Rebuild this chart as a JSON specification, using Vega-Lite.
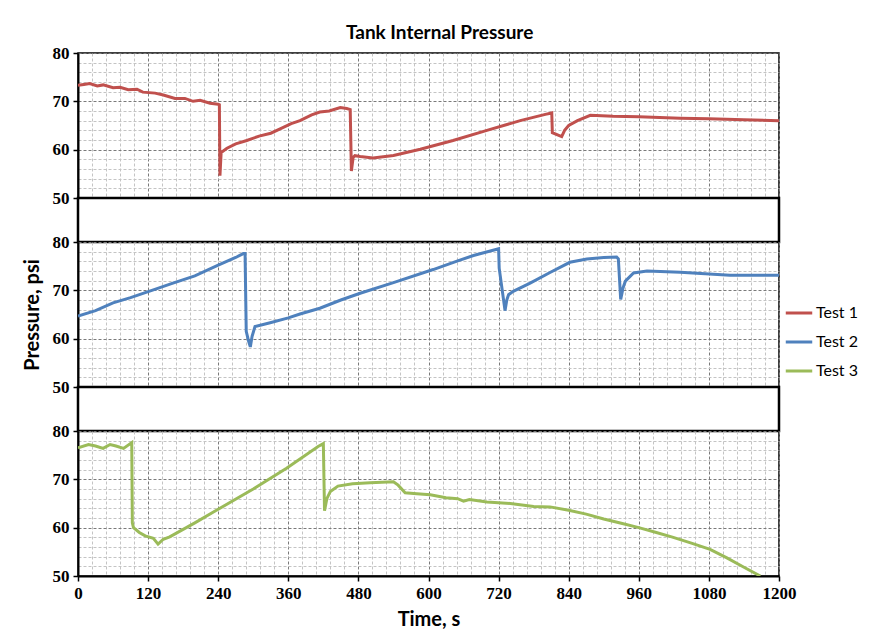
{
 "$schema": "https://vega.github.io/schema/vega-lite/v6.json",
 "padding": {"left": 21, "top": 24, "right": 10, "bottom": 5},
 "bounds": "flush",
 "title": {"text": "Tank Internal Pressure", "font": "Lato", "fontSize": 19, "fontWeight": "bold", "color": "#000", "offset": 0, "anchor": "middle"},
 "datasets": {
  "t1": [
   {"time": 0, "pressure": 73.3, "test": "Test 1"},
   {"time": 10, "pressure": 73.5, "test": "Test 1"},
   {"time": 20, "pressure": 73.7, "test": "Test 1"},
   {"time": 33, "pressure": 73.2, "test": "Test 1"},
   {"time": 43, "pressure": 73.4, "test": "Test 1"},
   {"time": 60, "pressure": 72.8, "test": "Test 1"},
   {"time": 72, "pressure": 72.9, "test": "Test 1"},
   {"time": 86, "pressure": 72.4, "test": "Test 1"},
   {"time": 101, "pressure": 72.5, "test": "Test 1"},
   {"time": 111, "pressure": 71.9, "test": "Test 1"},
   {"time": 132, "pressure": 71.7, "test": "Test 1"},
   {"time": 146, "pressure": 71.3, "test": "Test 1"},
   {"time": 166, "pressure": 70.6, "test": "Test 1"},
   {"time": 183, "pressure": 70.6, "test": "Test 1"},
   {"time": 197, "pressure": 70.0, "test": "Test 1"},
   {"time": 209, "pressure": 70.2, "test": "Test 1"},
   {"time": 226, "pressure": 69.6, "test": "Test 1"},
   {"time": 240, "pressure": 69.4, "test": "Test 1"},
   {"time": 242, "pressure": 69.3, "test": "Test 1"},
   {"time": 243, "pressure": 54.6, "test": "Test 1"},
   {"time": 245, "pressure": 59.4, "test": "Test 1"},
   {"time": 255, "pressure": 60.3, "test": "Test 1"},
   {"time": 270, "pressure": 61.2, "test": "Test 1"},
   {"time": 289, "pressure": 61.9, "test": "Test 1"},
   {"time": 310, "pressure": 62.8, "test": "Test 1"},
   {"time": 330, "pressure": 63.4, "test": "Test 1"},
   {"time": 346, "pressure": 64.3, "test": "Test 1"},
   {"time": 365, "pressure": 65.4, "test": "Test 1"},
   {"time": 380, "pressure": 66.0, "test": "Test 1"},
   {"time": 400, "pressure": 67.2, "test": "Test 1"},
   {"time": 414, "pressure": 67.8, "test": "Test 1"},
   {"time": 430, "pressure": 68.0, "test": "Test 1"},
   {"time": 449, "pressure": 68.7, "test": "Test 1"},
   {"time": 460, "pressure": 68.5, "test": "Test 1"},
   {"time": 466, "pressure": 68.3, "test": "Test 1"},
   {"time": 468, "pressure": 55.6, "test": "Test 1"},
   {"time": 471, "pressure": 58.4, "test": "Test 1"},
   {"time": 474, "pressure": 58.75, "test": "Test 1"},
   {"time": 483, "pressure": 58.6, "test": "Test 1"},
   {"time": 505, "pressure": 58.3, "test": "Test 1"},
   {"time": 540, "pressure": 58.8, "test": "Test 1"},
   {"time": 586, "pressure": 60.1, "test": "Test 1"},
   {"time": 642, "pressure": 61.9, "test": "Test 1"},
   {"time": 700, "pressure": 64.0, "test": "Test 1"},
   {"time": 757, "pressure": 66.0, "test": "Test 1"},
   {"time": 800, "pressure": 67.3, "test": "Test 1"},
   {"time": 811, "pressure": 67.6, "test": "Test 1"},
   {"time": 812, "pressure": 63.5, "test": "Test 1"},
   {"time": 828, "pressure": 62.7, "test": "Test 1"},
   {"time": 833, "pressure": 64.0, "test": "Test 1"},
   {"time": 840, "pressure": 65.0, "test": "Test 1"},
   {"time": 855, "pressure": 66.0, "test": "Test 1"},
   {"time": 877, "pressure": 67.1, "test": "Test 1"},
   {"time": 916, "pressure": 66.9, "test": "Test 1"},
   {"time": 960, "pressure": 66.8, "test": "Test 1"},
   {"time": 1031, "pressure": 66.5, "test": "Test 1"},
   {"time": 1080, "pressure": 66.4, "test": "Test 1"},
   {"time": 1140, "pressure": 66.2, "test": "Test 1"},
   {"time": 1200, "pressure": 66.0, "test": "Test 1"}
  ],
  "t2": [
   {"time": 0, "pressure": 64.7, "test": "Test 2"},
   {"time": 30, "pressure": 65.8, "test": "Test 2"},
   {"time": 60, "pressure": 67.4, "test": "Test 2"},
   {"time": 90, "pressure": 68.5, "test": "Test 2"},
   {"time": 129, "pressure": 70.1, "test": "Test 2"},
   {"time": 160, "pressure": 71.4, "test": "Test 2"},
   {"time": 200, "pressure": 73.0, "test": "Test 2"},
   {"time": 240, "pressure": 75.2, "test": "Test 2"},
   {"time": 270, "pressure": 76.8, "test": "Test 2"},
   {"time": 283, "pressure": 77.6, "test": "Test 2"},
   {"time": 286, "pressure": 77.6, "test": "Test 2"},
   {"time": 288, "pressure": 61.5, "test": "Test 2"},
   {"time": 292, "pressure": 59.5, "test": "Test 2"},
   {"time": 295, "pressure": 58.3, "test": "Test 2"},
   {"time": 298, "pressure": 60.5, "test": "Test 2"},
   {"time": 303, "pressure": 62.5, "test": "Test 2"},
   {"time": 329, "pressure": 63.3, "test": "Test 2"},
   {"time": 360, "pressure": 64.3, "test": "Test 2"},
   {"time": 380, "pressure": 65.1, "test": "Test 2"},
   {"time": 414, "pressure": 66.3, "test": "Test 2"},
   {"time": 450, "pressure": 68.0, "test": "Test 2"},
   {"time": 483, "pressure": 69.4, "test": "Test 2"},
   {"time": 540, "pressure": 71.6, "test": "Test 2"},
   {"time": 608, "pressure": 74.3, "test": "Test 2"},
   {"time": 650, "pressure": 76.1, "test": "Test 2"},
   {"time": 677, "pressure": 77.2, "test": "Test 2"},
   {"time": 717, "pressure": 78.5, "test": "Test 2"},
   {"time": 720, "pressure": 78.6, "test": "Test 2"},
   {"time": 721, "pressure": 74.6, "test": "Test 2"},
   {"time": 731, "pressure": 65.8, "test": "Test 2"},
   {"time": 734, "pressure": 68.0, "test": "Test 2"},
   {"time": 737, "pressure": 69.1, "test": "Test 2"},
   {"time": 745, "pressure": 69.8, "test": "Test 2"},
   {"time": 774, "pressure": 71.5, "test": "Test 2"},
   {"time": 808, "pressure": 73.7, "test": "Test 2"},
   {"time": 842, "pressure": 75.8, "test": "Test 2"},
   {"time": 871, "pressure": 76.5, "test": "Test 2"},
   {"time": 900, "pressure": 76.8, "test": "Test 2"},
   {"time": 922, "pressure": 76.9, "test": "Test 2"},
   {"time": 925, "pressure": 76.5, "test": "Test 2"},
   {"time": 929, "pressure": 68.1, "test": "Test 2"},
   {"time": 933, "pressure": 70.5, "test": "Test 2"},
   {"time": 937, "pressure": 71.9, "test": "Test 2"},
   {"time": 951, "pressure": 73.6, "test": "Test 2"},
   {"time": 974, "pressure": 74.0, "test": "Test 2"},
   {"time": 1031, "pressure": 73.75, "test": "Test 2"},
   {"time": 1116, "pressure": 73.1, "test": "Test 2"},
   {"time": 1200, "pressure": 73.1, "test": "Test 2"}
  ],
  "t3": [
   {"time": 0, "pressure": 76.5, "test": "Test 3"},
   {"time": 18, "pressure": 77.2, "test": "Test 3"},
   {"time": 30, "pressure": 76.9, "test": "Test 3"},
   {"time": 43, "pressure": 76.4, "test": "Test 3"},
   {"time": 55, "pressure": 77.2, "test": "Test 3"},
   {"time": 65, "pressure": 76.9, "test": "Test 3"},
   {"time": 78, "pressure": 76.4, "test": "Test 3"},
   {"time": 92, "pressure": 77.6, "test": "Test 3"},
   {"time": 93, "pressure": 61.0, "test": "Test 3"},
   {"time": 95, "pressure": 60.0, "test": "Test 3"},
   {"time": 105, "pressure": 59.0, "test": "Test 3"},
   {"time": 115, "pressure": 58.3, "test": "Test 3"},
   {"time": 129, "pressure": 57.8, "test": "Test 3"},
   {"time": 137, "pressure": 56.6, "test": "Test 3"},
   {"time": 146, "pressure": 57.6, "test": "Test 3"},
   {"time": 157, "pressure": 58.1, "test": "Test 3"},
   {"time": 200, "pressure": 61.0, "test": "Test 3"},
   {"time": 237, "pressure": 63.6, "test": "Test 3"},
   {"time": 300, "pressure": 68.0, "test": "Test 3"},
   {"time": 357, "pressure": 72.3, "test": "Test 3"},
   {"time": 411, "pressure": 76.8, "test": "Test 3"},
   {"time": 420, "pressure": 77.4, "test": "Test 3"},
   {"time": 422, "pressure": 63.5, "test": "Test 3"},
   {"time": 426, "pressure": 66.0, "test": "Test 3"},
   {"time": 432, "pressure": 67.5, "test": "Test 3"},
   {"time": 445, "pressure": 68.6, "test": "Test 3"},
   {"time": 470, "pressure": 69.1, "test": "Test 3"},
   {"time": 500, "pressure": 69.3, "test": "Test 3"},
   {"time": 540, "pressure": 69.5, "test": "Test 3"},
   {"time": 548, "pressure": 68.8, "test": "Test 3"},
   {"time": 560, "pressure": 67.2, "test": "Test 3"},
   {"time": 580, "pressure": 67.0, "test": "Test 3"},
   {"time": 603, "pressure": 66.8, "test": "Test 3"},
   {"time": 630, "pressure": 66.2, "test": "Test 3"},
   {"time": 650, "pressure": 66.0, "test": "Test 3"},
   {"time": 660, "pressure": 65.5, "test": "Test 3"},
   {"time": 670, "pressure": 65.8, "test": "Test 3"},
   {"time": 700, "pressure": 65.3, "test": "Test 3"},
   {"time": 740, "pressure": 65.0, "test": "Test 3"},
   {"time": 780, "pressure": 64.4, "test": "Test 3"},
   {"time": 808, "pressure": 64.3, "test": "Test 3"},
   {"time": 840, "pressure": 63.6, "test": "Test 3"},
   {"time": 870, "pressure": 62.8, "test": "Test 3"},
   {"time": 900, "pressure": 61.8, "test": "Test 3"},
   {"time": 930, "pressure": 60.9, "test": "Test 3"},
   {"time": 960, "pressure": 60.0, "test": "Test 3"},
   {"time": 990, "pressure": 59.0, "test": "Test 3"},
   {"time": 1019, "pressure": 58.0, "test": "Test 3"},
   {"time": 1050, "pressure": 56.8, "test": "Test 3"},
   {"time": 1082, "pressure": 55.5, "test": "Test 3"},
   {"time": 1110, "pressure": 53.8, "test": "Test 3"},
   {"time": 1140, "pressure": 51.8, "test": "Test 3"},
   {"time": 1168, "pressure": 50.0, "test": "Test 3"}
  ]
 },
 "spacing": 0,
 "vconcat": [
  {
   "width": 701, "height": 145,
   "data": {"name": "t1"},
   "mark": {"type": "line", "strokeWidth": 3, "clip": true},
   "encoding": {
    "x": {"field": "time", "type": "quantitative", "scale": {"domain": [0, 1200], "nice": false},
     "axis": {"values": [0,24,48,72,96,120,144,168,192,216,240,264,288,312,336,360,384,408,432,456,480,504,528,552,576,600,624,648,672,696,720,744,768,792,816,840,864,888,912,936,960,984,1008,1032,1056,1080,1104,1128,1152,1176,1200], "labels": false, "ticks": false, "domain": false, "title": null,
      "gridDash": [3, 2], "gridColor": {"condition": {"test": "datum.value % 120 === 0", "value": "#7a7a7a"}, "value": "#c4c4c4"}}},
    "y": {"field": "pressure", "type": "quantitative", "scale": {"domain": [50, 80], "nice": false, "zero": false},
     "axis": {"values": [50,52,54,56,58,60,62,64,66,68,70,72,74,76,78,80], "title": null,
      "labelExpr": "datum.value % 10 === 0 ? datum.label : ''",
      "tickOpacity": {"condition": {"test": "datum.value % 10 === 0", "value": 1}, "value": 0},
      "gridDash": [3, 2], "gridColor": {"condition": {"test": "datum.value % 10 === 0", "value": "#7a7a7a"}, "value": "#c4c4c4"}}},
    "color": {"field": "test", "type": "nominal", "scale": {"domain": ["Test 1", "Test 2", "Test 3"], "range": ["#C0504D", "#4F81BD", "#9BBB59"]}}
   }
  },
  {
   "width": 701, "height": 44,
   "data": {"values": [{}]},
   "mark": {"type": "point", "opacity": 0},
   "encoding": {},
   "view": {"stroke": "#000", "strokeWidth": 2.5}
  },
  {
   "width": 701, "height": 145,
   "data": {"name": "t2"},
   "mark": {"type": "line", "strokeWidth": 3, "clip": true},
   "encoding": {
    "x": {"field": "time", "type": "quantitative", "scale": {"domain": [0, 1200], "nice": false},
     "axis": {"values": [0,24,48,72,96,120,144,168,192,216,240,264,288,312,336,360,384,408,432,456,480,504,528,552,576,600,624,648,672,696,720,744,768,792,816,840,864,888,912,936,960,984,1008,1032,1056,1080,1104,1128,1152,1176,1200], "labels": false, "ticks": false, "domain": false, "title": null,
      "gridDash": [3, 2], "gridColor": {"condition": {"test": "datum.value % 120 === 0", "value": "#7a7a7a"}, "value": "#c4c4c4"}}},
    "y": {"field": "pressure", "type": "quantitative", "scale": {"domain": [50, 80], "nice": false, "zero": false},
     "axis": {"values": [50,52,54,56,58,60,62,64,66,68,70,72,74,76,78,80], "title": "Pressure, psi",
      "labelExpr": "datum.value % 10 === 0 ? datum.label : ''",
      "tickOpacity": {"condition": {"test": "datum.value % 10 === 0", "value": 1}, "value": 0},
      "gridDash": [3, 2], "gridColor": {"condition": {"test": "datum.value % 10 === 0", "value": "#7a7a7a"}, "value": "#c4c4c4"}}},
    "color": {"field": "test", "type": "nominal", "scale": {"domain": ["Test 1", "Test 2", "Test 3"], "range": ["#C0504D", "#4F81BD", "#9BBB59"]}}
   }
  },
  {
   "width": 701, "height": 44,
   "data": {"values": [{}]},
   "mark": {"type": "point", "opacity": 0},
   "encoding": {},
   "view": {"stroke": "#000", "strokeWidth": 2.5}
  },
  {
   "width": 701, "height": 145,
   "data": {"name": "t3"},
   "mark": {"type": "line", "strokeWidth": 3, "clip": true},
   "encoding": {
    "x": {"field": "time", "type": "quantitative", "scale": {"domain": [0, 1200], "nice": false},
     "axis": {"values": [0,24,48,72,96,120,144,168,192,216,240,264,288,312,336,360,384,408,432,456,480,504,528,552,576,600,624,648,672,696,720,744,768,792,816,840,864,888,912,936,960,984,1008,1032,1056,1080,1104,1128,1152,1176,1200], "title": "Time, s", "format": "d",
      "labelExpr": "datum.value % 120 === 0 ? datum.label : ''",
      "tickOpacity": {"condition": {"test": "datum.value % 120 === 0", "value": 1}, "value": 0},
      "gridDash": [3, 2], "gridColor": {"condition": {"test": "datum.value % 120 === 0", "value": "#7a7a7a"}, "value": "#c4c4c4"}}},
    "y": {"field": "pressure", "type": "quantitative", "scale": {"domain": [50, 80], "nice": false, "zero": false},
     "axis": {"values": [50,52,54,56,58,60,62,64,66,68,70,72,74,76,78,80], "title": null,
      "labelExpr": "datum.value % 10 === 0 ? datum.label : ''",
      "tickOpacity": {"condition": {"test": "datum.value % 10 === 0", "value": 1}, "value": 0},
      "gridDash": [3, 2], "gridColor": {"condition": {"test": "datum.value % 10 === 0", "value": "#7a7a7a"}, "value": "#c4c4c4"}}},
    "color": {"field": "test", "type": "nominal", "scale": {"domain": ["Test 1", "Test 2", "Test 3"], "range": ["#C0504D", "#4F81BD", "#9BBB59"]}}
   }
  }
 ],
 "config": {
  "font": "Lato",
  "view": {"stroke": "#000", "strokeWidth": 1.5},
  "axis": {
   "domainColor": "#000", "domainWidth": 2, "tickColor": "#000", "tickWidth": 1.5, "tickSize": 5,
   "labelFont": "Liberation Serif", "labelFontWeight": "bold", "labelFontSize": 17, "labelColor": "#000", "labelPadding": 4,
   "titleFont": "Lato", "titleFontWeight": "bold", "titleFontSize": 20, "titleColor": "#000",
   "gridWidth": 1, "gridOpacity": 1, "labelOverlap": false, "labelFlush": false
  },
  "axisY": {"titlePadding": 10},
  "axisX": {"titlePadding": 8},
  "legend": {
   "title": null, "orient": "none", "legendX": 706, "legendY": 245,
   "symbolType": "stroke", "symbolStrokeWidth": 3, "symbolSize": 700,
   "labelFont": "Lato", "labelFontSize": 16, "labelColor": "#000", "rowPadding": 6, "labelOffset": 2
  }
 }
}
